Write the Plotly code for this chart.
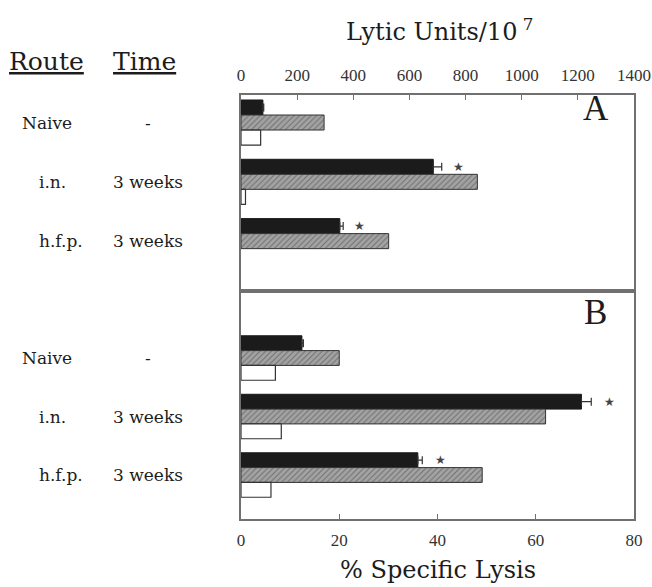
import plotly.graph_objects as go

# ---- data ----
groups = ["Naive", "i.n.", "h.f.p."]
times = ["-", "3 weeks", "3 weeks"]

# Panel A (Lytic Units / 10^7)
a_black = [78, 685, 352]
a_black_err = [3, 30, 12]
a_hatch = [296, 842, 526]
a_white = [70, 16, None]
a_star = [False, True, True]

# Panel B (% Specific Lysis)
b_black = [12.4, 69.3, 36.0]
b_black_err = [0.3, 2.0, 0.9]
b_hatch = [20.0, 62.0, 49.1]
b_white = [7.0, 8.2, 6.1]
b_star = [False, True, True]

top_ticks = [0, 200, 400, 600, 800, 1000, 1200, 1400]
bottom_ticks = [0, 20, 40, 60, 80]

FONT = "Liberation Serif, Times New Roman, serif"
WIDE = "DejaVu Serif, serif"
TXT = "#1c1c1c"
BLACK = "#1b1b1b"
HATCH_BG = "#a3a3a3"
FRAME = "#707070"

fig = go.Figure()

def add_panel(black, err, hatch, white, xa, ya):
    fig.add_trace(go.Bar(
        y=groups, x=black, orientation="h", xaxis=xa, yaxis=ya,
        marker=dict(color=BLACK, line=dict(color=BLACK, width=1)),
        error_x=dict(type="data", array=err, arrayminus=[0] * len(err),
                     symmetric=False, color="#333", thickness=1.2, width=4),
        showlegend=False))
    fig.add_trace(go.Bar(
        y=groups, x=hatch, orientation="h", xaxis=xa, yaxis=ya,
        marker=dict(color=HATCH_BG, line=dict(color="#333", width=1),
                    pattern=dict(shape="/", fgcolor="#3a3a3a", bgcolor=HATCH_BG,
                                 size=4, solidity=0.25, fillmode="overlay")),
        showlegend=False))
    fig.add_trace(go.Bar(
        y=groups, x=white, orientation="h", xaxis=xa, yaxis=ya,
        marker=dict(color="white", line=dict(color="#333", width=1.2)),
        showlegend=False))

add_panel(a_black, a_black_err, a_hatch, a_white, "x2", "y2")
add_panel(b_black, b_black_err, b_hatch, b_white, "x", "y")

annotations = []
# significance stars
for g, v, e, s in zip(groups, a_black, a_black_err, a_star):
    if s:
        annotations.append(dict(x=v + e, y=g, xref="x2", yref="y2", text="★",
                                showarrow=False, xanchor="left", xshift=9, yshift=15,
                                font=dict(family="DejaVu Sans", size=12, color="#444")))
for g, v, e, s in zip(groups, b_black, b_black_err, b_star):
    if s:
        annotations.append(dict(x=v + e, y=g, xref="x", yref="y", text="★",
                                showarrow=False, xanchor="left", xshift=11, yshift=15,
                                font=dict(family="DejaVu Sans", size=12, color="#444")))

def lab(x, y, text, size, xref="paper", yref="paper", family=WIDE):
    return dict(x=x, y=y, xref=xref, yref=yref, text=text, showarrow=False,
                xanchor="center", yanchor="middle",
                font=dict(family=family, size=size, color=TXT))

# left labels
route_x = [-0.493, -0.479, -0.459]
for yr in ["y2", "y"]:
    for g, t, rx in zip(groups, times, route_x):
        annotations.append(lab(rx, g, g, 17, yref=yr))
        annotations.append(lab(-0.237, g, t, 17, yref=yr))

annotations += [
    lab(-0.494, 1.078, "<u>Route</u>", 25),
    lab(-0.246, 1.078, "<u>Time</u>", 25),
    lab(0.506, 1.153, "Lytic Units/10<sup> 7</sup>", 24),
    lab(0.5, -0.120, "% Specific Lysis", 24),
    lab(0.903, 0.969, "A", 35, family=FONT),
    lab(0.903, 0.488, "B", 35, family=FONT),
]

split = 0.5377
axis_common = dict(showline=True, linecolor=FRAME, linewidth=1.5, mirror=True,
                   showgrid=False, zeroline=False, automargin=False)

fig.update_layout(
    width=652, height=587,
    margin=dict(l=241, r=18, t=95, b=68, autoexpand=False),
    paper_bgcolor="white", plot_bgcolor="white",
    barmode="group", bargap=0.24, bargroupgap=0,
    font=dict(family=FONT, color=TXT),
    xaxis=dict(range=[0, 80], tickvals=bottom_ticks, ticks="inside", ticklen=5,
               tickcolor=FRAME, anchor="y", ticklabelstandoff=5,
               tickfont=dict(family=FONT, size=17, color="#333"), **axis_common),
    yaxis=dict(domain=[0, split], range=[2.752, -1.145], showticklabels=False,
               ticks="", anchor="x", **axis_common),
    xaxis2=dict(range=[0, 1400], tickvals=top_ticks, ticks="inside", ticklen=5,
                tickcolor=FRAME, side="top", anchor="y2", ticklabelstandoff=5,
                tickfont=dict(family=FONT, size=17, color="#333"), **axis_common),
    yaxis2=dict(domain=[split, 1], range=[2.841, -0.464], showticklabels=False,
                ticks="", anchor="x2", **axis_common),
    annotations=annotations,
)

fig.write_html("out.html")
